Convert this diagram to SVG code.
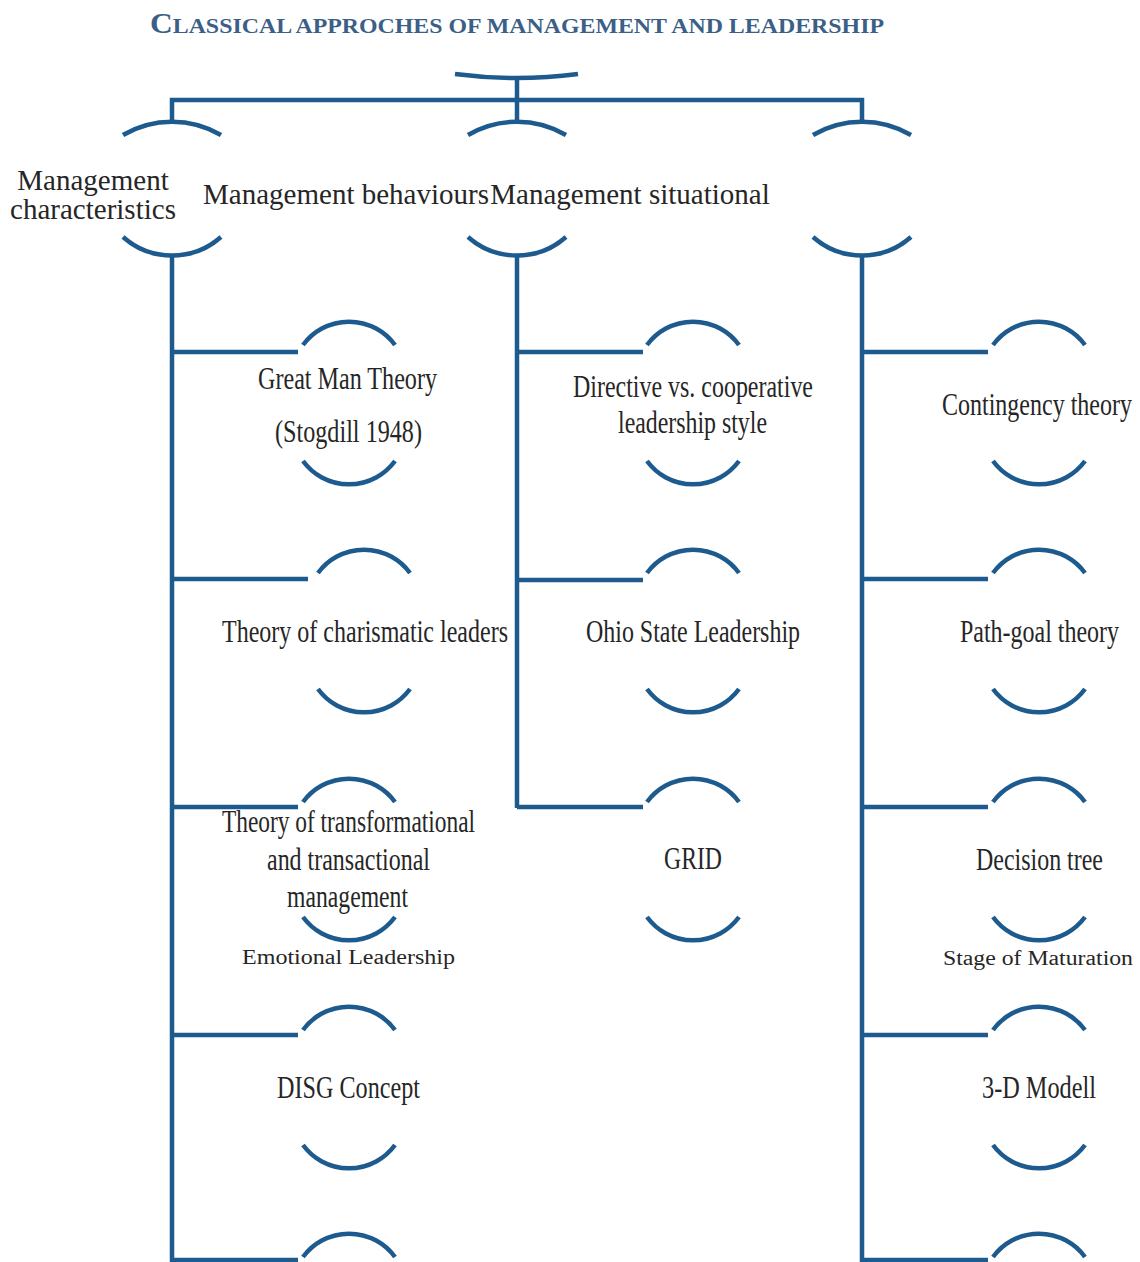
<svg xmlns="http://www.w3.org/2000/svg" width="1140" height="1262" viewBox="0 0 1140 1262">
<style>
.ln{fill:none;stroke:#1d5a8e;stroke-width:4.5;stroke-linecap:butt}
.arc{fill:none;stroke:#1d5a8e;stroke-width:4.5}
.t{font-family:"Liberation Serif","Times New Roman",serif;fill:#262626;text-anchor:middle}
.lf{font-size:32px}
.hd{font-size:29px}
.sm{font-size:20px}
.ttl{font-family:"Liberation Serif","Times New Roman",serif;font-weight:bold;fill:#3b5f86}
</style>
<rect width="1140" height="1262" fill="#ffffff"/>
<text class="ttl" x="150" y="33" textLength="734" lengthAdjust="spacingAndGlyphs"><tspan font-size="29">C</tspan><tspan font-size="22">LASSICAL APPROCHES OF MANAGEMENT AND LEADERSHIP</tspan></text>

<g id="connectors">
  <path class="ln" d="M455,74 Q516,82 578,74"/>
  <path class="ln" d="M517,78 V123"/>
  <path class="ln" d="M172,123 V100 H862 V123"/>
  <path class="ln" d="M172,255 V1262"/>
  <path class="ln" d="M517,255 V808"/>
  <path class="ln" d="M862,255 V1262"/>
  <path class="ln" d="M172,352 H298"/>
  <path class="ln" d="M172,579 H308"/>
  <path class="ln" d="M172,807 H298"/>
  <path class="ln" d="M172,1035 H298"/>
  <path class="ln" d="M172,1260 H298"/>
  <path class="ln" d="M517,352 H643"/>
  <path class="ln" d="M517,580 H643"/>
  <path class="ln" d="M517,807 H643"/>
  <path class="ln" d="M862,352 H988"/>
  <path class="ln" d="M862,579 H988"/>
  <path class="ln" d="M862,807 H988"/>
  <path class="ln" d="M862,1035 H988"/>
  <path class="ln" d="M862,1260 H988"/>
</g>

<g id="node-characteristics">
  <path class="arc" d="M123,135 A97,97 0 0 1 221,135"/>
  <path class="arc" d="M123,237 A74,74 0 0 0 221,237"/>
  <text class="t hd" x="93" y="190">Management</text>
  <text class="t hd" x="93" y="219">characteristics</text>
</g>
<g id="node-behaviours">
  <path class="arc" d="M468,135 A97,97 0 0 1 566,135"/>
  <path class="arc" d="M468,237 A74,74 0 0 0 566,237"/>
  <text class="t hd" x="346" y="204">Management behaviours</text>
</g>
<g id="node-situational">
  <path class="arc" d="M813,135 A97,97 0 0 1 911,135"/>
  <path class="arc" d="M813,237 A74,74 0 0 0 911,237"/>
  <text class="t hd" x="630" y="204">Management situational</text>
</g>

<g id="node-great-man">
  <path class="arc" d="M303,345 A57,57 0 0 1 395,345"/>
  <path class="arc" d="M303,461 A57,57 0 0 0 395,461"/>
  <text class="t lf" x="347.5" y="389" textLength="179" lengthAdjust="spacingAndGlyphs">Great Man Theory</text>
  <text class="t lf" x="348.5" y="442" textLength="147" lengthAdjust="spacingAndGlyphs">(Stogdill 1948)</text>
</g>
<g id="node-charismatic">
  <path class="arc" d="M318,573 A57,57 0 0 1 410,573"/>
  <path class="arc" d="M318,689 A57,57 0 0 0 410,689"/>
  <text class="t lf" x="365" y="642" textLength="286" lengthAdjust="spacingAndGlyphs">Theory of charismatic leaders</text>
</g>
<g id="node-transformational">
  <path class="arc" d="M303,802 A57,57 0 0 1 395,802"/>
  <path class="arc" d="M303,917 A57,57 0 0 0 395,917"/>
  <text class="t lf" x="348.5" y="832" textLength="253" lengthAdjust="spacingAndGlyphs">Theory of transformational</text>
  <text class="t lf" x="348.5" y="870" textLength="163" lengthAdjust="spacingAndGlyphs">and transactional</text>
  <text class="t lf" x="347.5" y="907" textLength="121" lengthAdjust="spacingAndGlyphs">management</text>
</g>
<g id="node-emotional">
  <text class="t sm" x="348.5" y="964" textLength="213" lengthAdjust="spacingAndGlyphs">Emotional Leadership</text>
</g>
<g id="node-disg">
  <path class="arc" d="M303,1030 A57,57 0 0 1 395,1030"/>
  <path class="arc" d="M303,1145 A57,57 0 0 0 395,1145"/>
  <text class="t lf" x="348.5" y="1098" textLength="143" lengthAdjust="spacingAndGlyphs">DISG Concept</text>
</g>
<g id="node-col1-last">
  <path class="arc" d="M303,1257 A57,57 0 0 1 395,1257"/>
</g>

<g id="node-directive">
  <path class="arc" d="M647,345 A57,57 0 0 1 739,345"/>
  <path class="arc" d="M647,461 A57,57 0 0 0 739,461"/>
  <text class="t lf" x="693" y="397" textLength="240" lengthAdjust="spacingAndGlyphs">Directive vs. cooperative</text>
  <text class="t lf" x="692.5" y="433" textLength="149" lengthAdjust="spacingAndGlyphs">leadership style</text>
</g>
<g id="node-ohio">
  <path class="arc" d="M647,573 A57,57 0 0 1 739,573"/>
  <path class="arc" d="M647,689 A57,57 0 0 0 739,689"/>
  <text class="t lf" x="693" y="642" textLength="214" lengthAdjust="spacingAndGlyphs">Ohio State Leadership</text>
</g>
<g id="node-grid">
  <path class="arc" d="M647,802 A57,57 0 0 1 739,802"/>
  <path class="arc" d="M647,917 A57,57 0 0 0 739,917"/>
  <text class="t lf" x="693" y="869" textLength="58" lengthAdjust="spacingAndGlyphs">GRID</text>
</g>

<g id="node-contingency">
  <path class="arc" d="M993,345 A57,57 0 0 1 1085,345"/>
  <path class="arc" d="M993,461 A57,57 0 0 0 1085,461"/>
  <text class="t lf" x="1037" y="415" textLength="190" lengthAdjust="spacingAndGlyphs">Contingency theory</text>
</g>
<g id="node-path-goal">
  <path class="arc" d="M993,573 A57,57 0 0 1 1085,573"/>
  <path class="arc" d="M993,689 A57,57 0 0 0 1085,689"/>
  <text class="t lf" x="1039.5" y="642" textLength="159" lengthAdjust="spacingAndGlyphs">Path-goal theory</text>
</g>
<g id="node-decision">
  <path class="arc" d="M993,802 A57,57 0 0 1 1085,802"/>
  <path class="arc" d="M993,917 A57,57 0 0 0 1085,917"/>
  <text class="t lf" x="1039.5" y="870" textLength="127" lengthAdjust="spacingAndGlyphs">Decision tree</text>
</g>
<g id="node-maturation">
  <text class="t sm" x="1038" y="965" textLength="190" lengthAdjust="spacingAndGlyphs">Stage of Maturation</text>
</g>
<g id="node-3d">
  <path class="arc" d="M993,1030 A57,57 0 0 1 1085,1030"/>
  <path class="arc" d="M993,1145 A57,57 0 0 0 1085,1145"/>
  <text class="t lf" x="1039" y="1098" textLength="114" lengthAdjust="spacingAndGlyphs">3-D Modell</text>
</g>
<g id="node-col3-last">
  <path class="arc" d="M993,1257 A57,57 0 0 1 1085,1257"/>
</g>
</svg>
